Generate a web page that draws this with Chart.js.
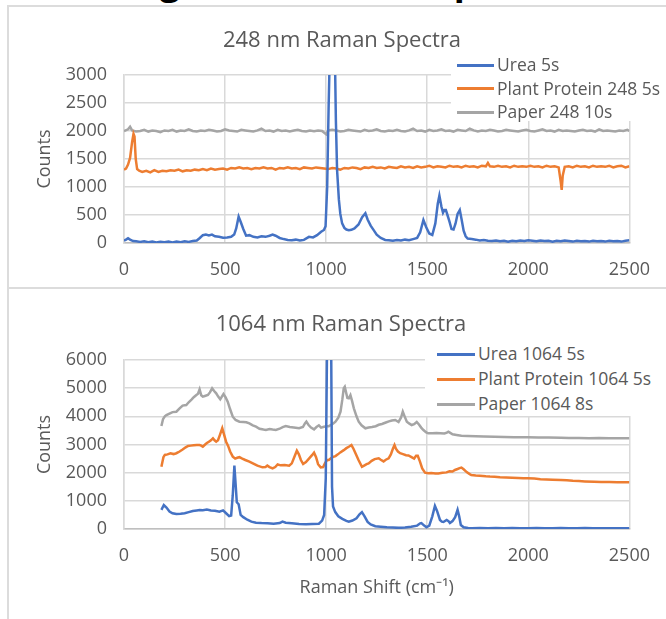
<!DOCTYPE html>
<html>
<head>
<meta charset="utf-8">
<script src="https://cdn.jsdelivr.net/npm/chart.js@4/dist/chart.umd.min.js"></script>
<style>
  body { margin: 0; background: #fff; width: 666px; height: 619px; overflow: hidden; position: relative; font-family: "Open Sans", sans-serif; }
  #heading { position: absolute; left: 73px; top: -37px; font: bold 36px/36px "Open Sans"; color: #000; white-space: nowrap; z-index: 0; }
  .box { position: absolute; left: 7px; width: 700px; border: 2px solid #dcdcdc; background: #fff; z-index: 1; }
  canvas { position: absolute; left: 0; z-index: 2; }
  .title { position: absolute; width: 400px; text-align: center; font-size: 22px; color: #595959; z-index: 3; line-height: 26px; }
  .legend { position: absolute; background: #fff; z-index: 3; font-size: 17.5px; color: #595959; }
  .legend div { position: absolute; white-space: nowrap; line-height: 22px; }
  .legend span.swatch { display: inline-block; height: 3px; vertical-align: middle; margin-right: 3px; position: relative; top: -1px; }
</style>
</head>
<body>
<div id="heading">Background Raman Spectra</div>
<div class="box" style="top:5px;height:280px"></div>
<div class="box" style="top:287px;height:400px"></div>
<canvas id="c1" width="666" height="289" style="top:0"></canvas>
<canvas id="c2" width="666" height="330" style="top:289px"></canvas>
<div class="title" style="left:142px;top:25px">248 nm Raman Spectra</div>
<div class="title" style="left:141px;top:309px">1064 nm Raman Spectra</div>
<div class="legend" id="leg1" style="left:451px;top:50px;width:230px;height:71px"></div>
<div class="legend" id="leg2" style="left:425px;top:339px;width:250px;height:77px"></div>
<script>
// Raman shift (cm-1), counts
const labels248 = ['Urea 5s', 'Plant Protein 248 5s', 'Paper 248 10s'];
const labels1064 = ['Urea 1064 5s', 'Plant Protein 1064 5s', 'Paper 1064 8s'];

const urea248 = [
  [0,40],[10,60],[20,85],[30,60],[45,35],[60,30],[80,20],[100,30],[120,15],[140,25],[160,10],[180,20],[200,15],[220,25],
  [240,10],[260,25],[280,15],[300,30],[320,20],[340,35],[360,45],[375,90],[390,140],[405,150],[420,135],[435,150],[450,120],
  [470,110],[490,95],[510,100],[530,110],[545,150],[555,260],[567,470],[577,380],[590,250],[604,130],[620,140],[640,110],
  [660,100],[680,120],[700,110],[720,130],[735,150],[750,130],[770,90],[790,70],[810,55],[830,50],[850,60],[870,45],[890,55],
  [915,110],[935,100],[955,140],[975,200],[989,232],[997,300],[1005,1000],[1012,2400],[1018,3400],[1025,5500],[1035,5500],
  [1043,3400],[1048,2200],[1054,1300],[1063,770],[1070,520],[1079,350],[1090,270],[1100,240],[1112,230],[1125,235],[1140,260],
  [1160,330],[1178,460],[1194,530],[1205,420],[1220,310],[1235,230],[1250,150],[1270,90],[1292,55],[1310,50],[1330,40],
  [1350,55],[1370,45],[1390,60],[1410,50],[1430,70],[1450,90],[1465,190],[1481,410],[1495,280],[1510,170],[1525,143],
  [1540,350],[1552,700],[1560,845],[1570,650],[1578,540],[1585,590],[1592,590],[1600,500],[1610,380],[1620,250],[1630,240],
  [1640,350],[1650,520],[1661,590],[1670,420],[1680,220],[1690,120],[1700,80],[1720,70],[1740,60],[1760,45],[1780,55],
  [1800,40],[1820,35],[1840,45],[1860,30],[1880,40],[1900,25],[1920,40],[1940,30],[1960,45],[1980,35],[2000,50],[2020,40],
  [2040,30],[2060,45],[2080,35],[2100,40],[2120,25],[2140,40],[2160,30],[2180,45],[2200,35],[2220,25],[2240,40],[2260,30],
  [2280,35],[2300,25],[2320,40],[2340,30],[2360,35],[2380,25],[2400,40],[2420,30],[2440,35],[2460,25],[2480,40],[2500,50]
];

const protein248 = [
  [0,1310],[10,1330],[20,1400],[30,1520],[40,1800],[47,1950],[52,1900],[58,1500],[65,1320],[75,1290],[90,1270],[110,1290],
  [130,1260],[150,1300],[170,1270],[190,1290],[210,1280],[230,1300],[250,1290],[270,1310],[290,1280],[310,1300],[330,1290],
  [350,1310],[370,1300],[390,1320],[410,1300],[430,1330],[450,1310],[470,1320],[490,1330],[510,1310],[530,1340],[550,1330],
  [570,1350],[590,1330],[610,1340],[630,1320],[650,1340],[670,1330],[690,1350],[710,1330],[730,1340],[750,1310],[770,1340],
  [790,1330],[810,1350],[830,1330],[850,1340],[870,1320],[890,1350],[910,1340],[930,1330],[950,1350],[970,1340],[990,1330],
  [1010,1320],[1030,1340],[1050,1330],[1070,1310],[1090,1340],[1110,1330],[1130,1350],[1150,1340],[1170,1320],[1190,1350],
  [1210,1340],[1230,1360],[1250,1340],[1270,1350],[1290,1330],[1310,1360],[1330,1350],[1350,1340],[1370,1370],[1390,1350],
  [1410,1360],[1430,1340],[1450,1370],[1470,1350],[1490,1360],[1510,1380],[1530,1350],[1550,1370],[1570,1360],[1590,1350],
  [1610,1380],[1630,1360],[1650,1370],[1670,1350],[1690,1380],[1710,1360],[1730,1370],[1750,1350],[1770,1380],[1790,1370],
  [1800,1430],[1810,1370],[1830,1360],[1850,1380],[1870,1360],[1890,1370],[1910,1350],[1930,1380],[1950,1360],[1970,1370],
  [1990,1360],[2010,1380],[2030,1360],[2050,1370],[2070,1350],[2090,1380],[2110,1360],[2130,1370],[2150,1350],[2160,1100],
  [2165,950],[2170,1200],[2180,1360],[2200,1370],[2220,1350],[2240,1380],[2260,1360],[2280,1370],[2300,1350],[2320,1380],
  [2340,1360],[2360,1370],[2380,1360],[2400,1380],[2420,1350],[2440,1370],[2460,1380],[2480,1350],[2500,1370]
];

const paper248 = [
  [0,2000],[20,2030],[30,2075],[40,2010],[60,1990],[80,2000],[100,2020],[120,1990],[140,2010],[160,2000],[180,1980],[200,2010],
  [220,2000],[240,2020],[260,1990],[280,2010],[300,2000],[320,2030],[340,2000],[360,1990],[380,2010],[400,2000],[420,2020],
  [440,2010],[460,1990],[480,2000],[500,2030],[520,2010],[540,2000],[560,1990],[580,2020],[600,2010],[620,2000],[640,1990],
  [660,2010],[680,2040],[700,2000],[720,2010],[740,1990],[760,2020],[780,2000],[800,2010],[820,1990],[840,2010],[860,2020],
  [880,2000],[900,1990],[920,2010],[940,1995],[960,2010],[980,2000],[1000,1940],[1010,2010],[1030,2020],[1050,2010],[1070,1990],
  [1090,2000],[1110,2020],[1130,2010],[1150,2000],[1170,1990],[1190,2020],[1210,2000],[1230,2010],[1250,2030],[1270,2000],
  [1290,1990],[1310,2010],[1330,2000],[1350,2020],[1370,2000],[1390,1990],[1410,2010],[1430,2040],[1450,2000],[1470,2010],
  [1490,1990],[1510,2020],[1530,2000],[1550,2010],[1570,2030],[1590,2000],[1610,2010],[1630,1990],[1650,2020],[1670,2010],
  [1690,2000],[1710,2040],[1730,2010],[1750,1990],[1770,2010],[1790,2000],[1810,2020],[1830,2010],[1850,1990],[1870,2000],
  [1890,2020],[1910,2010],[1930,2000],[1950,1990],[1970,2010],[1990,2020],[2010,2000],[2030,1990],[2050,2010],[2070,2030],
  [2090,2000],[2110,2010],[2130,1990],[2150,2020],[2170,2000],[2190,2010],[2210,2000],[2230,1990],[2250,2010],[2270,2020],
  [2290,2000],[2310,2010],[2330,1990],[2350,2030],[2370,2000],[2390,2010],[2410,2000],[2430,1990],[2450,2010],[2470,2000],
  [2490,2020],[2500,2000]
];

const urea1064 = [
  [185,680],[197,850],[210,760],[225,620],[240,560],[259,530],[280,540],[300,560],[320,600],[340,640],[360,660],[374,675],
  [390,670],[410,690],[430,660],[450,650],[472,615],[490,660],[505,560],[520,460],[530,480],[538,1200],[546,2250],[552,1600],
  [558,950],[567,880],[577,500],[590,420],[610,330],[630,260],[653,225],[680,210],[710,200],[740,190],[770,210],[784,260],
  [800,220],[830,200],[866,180],[900,170],[930,180],[964,190],[980,300],[990,500],[998,1800],[1004,6200],[1014,12000],
  [1025,6200],[1029,1500],[1034,800],[1045,600],[1060,450],[1080,360],[1100,290],[1112,260],[1130,300],[1150,380],[1165,520],
  [1177,600],[1190,450],[1205,250],[1220,160],[1243,100],[1270,80],[1300,60],[1330,50],[1358,40],[1390,50],[1420,80],[1450,120],
  [1465,200],[1471,210],[1485,120],[1496,60],[1510,120],[1525,450],[1538,820],[1548,650],[1563,320],[1572,260],[1580,250],
  [1596,320],[1605,280],[1612,210],[1625,280],[1638,420],[1650,680],[1658,450],[1666,140],[1680,60],[1702,35],[1720,30],
  [1760,35],[1800,28],[1840,32],[1880,30],[1920,34],[1960,28],[2000,30],[2040,32],[2080,28],[2120,30],[2160,34],[2200,28],
  [2240,30],[2280,32],[2320,28],[2360,30],[2400,26],[2440,30],[2480,28],[2500,30]
];

const protein1064 = [
  [185,2210],[195,2550],[202,2630],[215,2650],[230,2690],[245,2660],[259,2690],[275,2750],[290,2820],[305,2900],[317,2950],
  [330,2960],[345,2970],[360,2980],[374,2980],[382,2960],[390,2920],[400,2990],[410,3050],[420,3100],[430,3150],[440,3220],
  [448,3150],[456,3100],[465,3150],[475,3350],[486,3580],[495,3350],[505,3100],[515,2950],[525,2750],[538,2570],[550,2500],
  [560,2530],[571,2550],[585,2500],[600,2450],[620,2390],[640,2320],[660,2250],[685,2190],[700,2200],[709,2250],[720,2200],
  [735,2150],[748,2200],[760,2290],[775,2260],[795,2270],[817,2250],[830,2330],[845,2600],[855,2780],[865,2650],[875,2450],
  [886,2310],[900,2380],[915,2500],[930,2620],[940,2710],[950,2550],[960,2300],[973,2190],[985,2200],[995,2350],[1005,2450],
  [1013,2450],[1025,2520],[1035,2560],[1046,2590],[1058,2650],[1070,2720],[1087,2800],[1100,2870],[1112,2920],[1125,2980],
  [1135,2850],[1145,2690],[1160,2450],[1177,2210],[1190,2260],[1200,2300],[1210,2330],[1225,2420],[1240,2480],[1260,2510],
  [1270,2460],[1284,2400],[1295,2460],[1309,2510],[1320,2650],[1330,2850],[1338,2980],[1345,2850],[1355,2750],[1366,2690],
  [1380,2660],[1395,2620],[1407,2610],[1420,2560],[1435,2500],[1445,2600],[1453,2600],[1464,2390],[1475,2150],[1489,2000],
  [1505,1980],[1520,1990],[1540,1970],[1555,1970],[1575,2000],[1595,2010],[1610,2050],[1625,2040],[1637,2095],[1650,2130],
  [1660,2160],[1669,2180],[1680,2120],[1695,2020],[1710,1950],[1718,1917],[1740,1900],[1760,1890],[1790,1870],[1810,1860],
  [1833,1857],[1860,1840],[1890,1830],[1920,1820],[1950,1810],[1975,1800],[1998,1800],[2030,1790],[2060,1770],[2090,1760],
  [2120,1750],[2161,1740],[2190,1730],[2220,1710],[2250,1700],[2280,1690],[2325,1680],[2360,1670],[2400,1670],[2440,1660],
  [2470,1660],[2500,1658]
];

const paper1064 = [
  [185,3656],[193,3900],[202,4000],[210,4047],[225,4100],[240,4150],[259,4165],[275,4280],[290,4380],[308,4402],[320,4500],
  [335,4600],[345,4680],[358,4757],[366,4800],[374,4958],[382,4750],[390,4697],[400,4720],[415,4757],[425,4850],[436,4993],
  [446,4900],[456,4816],[466,4700],[476,4603],[484,4700],[492,4793],[502,4680],[513,4520],[525,4250],[538,3987],[552,3870],
  [571,3810],[590,3800],[605,3790],[620,3750],[637,3680],[653,3632],[670,3560],[690,3530],[702,3514],[720,3550],[735,3530],
  [751,3514],[770,3560],[785,3620],[800,3656],[820,3620],[840,3600],[866,3575],[885,3620],[895,3750],[902,3810],[912,3700],
  [925,3600],[940,3538],[952,3620],[964,3680],[975,3600],[985,3620],[1000,3650],[1013,3650],[1025,3700],[1035,3750],
  [1046,3810],[1060,3950],[1071,4165],[1080,4600],[1087,5000],[1092,5050],[1100,4800],[1105,4650],[1112,4640],[1120,4750],
  [1128,4550],[1137,4285],[1150,4000],[1161,3810],[1175,3680],[1194,3575],[1210,3600],[1227,3620],[1245,3650],[1260,3700],
  [1276,3727],[1295,3780],[1310,3820],[1325,3850],[1342,3870],[1358,3800],[1370,3950],[1379,4165],[1388,4000],[1399,3810],
  [1410,3750],[1423,3692],[1435,3720],[1448,3800],[1460,3700],[1470,3600],[1481,3514],[1495,3430],[1505,3396],[1525,3400],
  [1545,3410],[1565,3400],[1585,3390],[1597,3420],[1604,3455],[1612,3420],[1625,3360],[1645,3340],[1669,3312],[1700,3300],
  [1740,3290],[1780,3285],[1833,3277],[1880,3270],[1930,3260],[1998,3255],[2050,3250],[2100,3245],[2161,3240],[2200,3235],
  [2250,3230],[2300,3225],[2350,3230],[2400,3225],[2450,3220],[2500,3220]
];

const xTicks = [0, 500, 1000, 1500, 2000, 2500];
const colors = ['#4472C4', '#ED7D31', '#A5A5A5'];

const toPoints = arr => arr.map(p => ({ x: p[0], y: p[1] }));

function makeDatasets(labels, series) {
  return series.map((s, i) => ({
    label: labels[i],
    data: toPoints(s),
    borderColor: colors[i],
    backgroundColor: colors[i],
    borderWidth: 2.5,
    pointRadius: 0,
    tension: 0
  }));
}

const tickFont = { family: 'Open Sans', size: 18 };
const plain = v => String(v); // no thousands separator, like the original

function makeChart(id, datasets, yMax, yStep, plotTop, xHeight, showXTitle) {
  return new Chart(document.getElementById(id), {
    type: 'line',
    data: { datasets: datasets },
    options: {
      responsive: false,
      animation: false,
      layout: { padding: { top: plotTop, right: 34, bottom: 0, left: 0 } },
      plugins: { legend: { display: false }, title: { display: false }, tooltip: { enabled: false } },
      scales: {
        x: {
          type: 'linear', min: 0, max: 2500,
          afterBuildTicks: axis => { axis.ticks = xTicks.map(v => ({ value: v })); },
          afterFit: scale => { scale.height = xHeight; },
          grid: { color: '#d9d9d9', lineWidth: 1.5, drawTicks: false },
          border: { color: '#bfbfbf', width: 1.5 },
          ticks: { font: tickFont, color: '#595959', padding: 16, maxRotation: 0, callback: plain },
          title: { display: showXTitle, text: 'Raman Shift (cm\u207B\u00B9)', font: tickFont, color: '#595959', padding: { top: 0, bottom: 20 } }
        },
        y: {
          min: 0, max: yMax,
          afterFit: scale => { scale.width = 124; },
          grid: { color: '#d9d9d9', lineWidth: 1.5, drawTicks: false },
          border: { color: '#d9d9d9', width: 1.5 },
          ticks: { stepSize: yStep, font: tickFont, color: '#595959', padding: 17, callback: plain },
          title: { display: true, text: 'Counts', font: tickFont, color: '#595959', padding: { top: 34, bottom: 0 } }
        }
      }
    }
  });
}

function buildLegend(elId, chart, rowTops, lineLeft, lineWidth) {
  const el = document.getElementById(elId);
  chart.data.datasets.forEach((ds, i) => {
    const row = document.createElement('div');
    row.style.left = lineLeft + 'px';
    row.style.top = rowTops[i] + 'px';
    row.innerHTML = '<span class="swatch" style="width:' + lineWidth + 'px;background:' + ds.borderColor + '"></span>' + ds.label;
    el.appendChild(row);
  });
}

const chart1 = makeChart('c1', makeDatasets(labels248, [urea248, protein248, paper248]), 3000, 500, 75, 46, false);
const chart2 = makeChart('c2', makeDatasets(labels1064, [urea1064, protein1064, paper1064]), 6000, 1000, 71, 90, true);

buildLegend('leg1', chart1, [3, 26.5, 50], 6, 37);
buildLegend('leg2', chart2, [3, 28, 53], 12, 38);
</script>
</body>
</html>
